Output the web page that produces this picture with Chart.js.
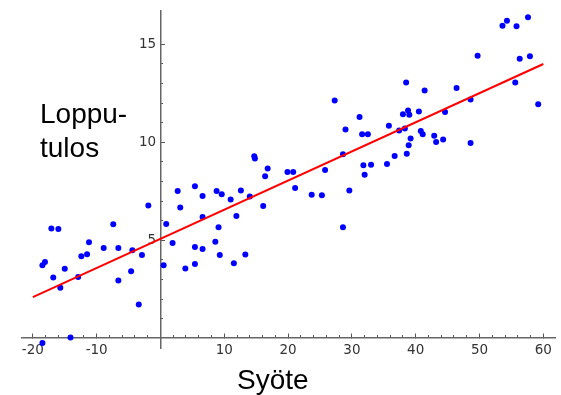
<!DOCTYPE html>
<html>
<head>
<meta charset="utf-8">
<script src="https://cdn.jsdelivr.net/npm/chart.js@4"></script>
<style>
    body { margin: 0; background: #fff; }
    #wrap { position: relative; width: 561px; height: 395px; }
    .lbl { position: absolute; font-family: "Liberation Sans", Arial, sans-serif; font-size: 28px; line-height: 34px; color: #000; white-space: nowrap; }
</style>
</head>
<body>
<div id="wrap">
    <canvas id="scatterChart"></canvas>
    <div class="lbl" style="left:40px; top:97px;">Loppu-<br>tulos</div>
    <div class="lbl" style="left:237px; top:363px;">Syöte</div>
</div>
<script>
// measured points (input, result)
const pointX = [-18.5, -18.1, -17.1, -16.0, -16.8, -15.7, -15.0, -14.1, -18.5, -12.9,
    -12.4, -11.5, -11.2, -8.9, -7.4, -6.6, -6.6, -4.6, -4.4, -3.4,
    -2.9, -1.9, 0.5, 0.9, 1.9, 2.7, 3.1, 3.9, 5.4, 5.4,
    5.4, 6.6, 6.6, 6.6, 8.6, 8.8, 9.1, 9.3, 9.6, 11.0,
    11.5, 11.9, 12.6, 13.3, 14.0, 14.7, 14.8, 16.1, 16.4, 16.8,
    19.9, 20.8, 21.1, 23.7, 25.3, 25.8, 27.3, 28.6, 28.6, 29.0,
    29.6, 31.2, 31.6, 32.5, 31.8, 32.0, 33.0, 35.5, 35.8, 36.7,
    37.4, 38.0, 38.3, 38.5, 38.6, 38.8, 39.0, 38.9, 39.2, 40.5,
    40.8, 41.1, 41.4, 42.9, 43.2, 44.3, 44.6, 46.4, 48.6, 48.6,
    49.7, 53.6, 54.3, 55.8, 57.6, 55.6, 56.3, 57.9, 59.2];
const pointY = [3.72, 3.89, 5.60, 5.58, 3.10, 2.57, 3.54, 0.04, -0.24, 3.13,
    4.18, 4.29, 4.90, 4.61, 5.82, 4.61, 2.94, 3.42, 4.49, 1.72,
    4.25, 6.77, 3.72, 5.83, 4.86, 7.52, 6.67, 3.56, 7.76, 4.66,
    3.79, 7.26, 6.19, 4.56, 4.93, 7.52, 5.66, 4.25, 7.35, 7.08,
    3.83, 6.24, 7.54, 4.27, 7.23, 9.29, 9.17, 6.75, 8.27, 8.66,
    8.48, 8.48, 7.67, 7.33, 7.30, 8.59, 12.14, 9.39, 5.66, 10.65,
    7.54, 11.29, 10.41, 10.41, 8.83, 8.34, 8.85, 8.89, 10.85, 9.30,
    10.61, 11.44, 10.71, 13.05, 9.42, 11.63, 11.41, 9.85, 10.20, 11.58,
    10.58, 10.41, 12.65, 10.34, 10.02, 10.14, 11.55, 12.77, 12.19, 9.96,
    14.42, 15.95, 16.21, 15.93, 16.39, 13.05, 14.27, 14.39, 11.95];

// fitted line end points
const fitX = [-20, 60];
const fitY = [2.1, 14.0];

// axis labels
const xTickLabels = [-20, -10, 10, 20, 30, 40, 50, 60];
const yTickLabels = [5, 10, 15];

const xRange = [-21.7, 61.9];
const yRange = [-0.5, 16.7];

const axisColor = '#666';
const tickMarkColor = '#555';
const tickFont = { family: 'DejaVu Sans', size: 13.5 };

const scatterData = pointX.map((x, i) => ({ x: x, y: pointY[i] }));
const fitData = fitX.map((x, i) => ({ x: x, y: fitY[i] }));

const ctx = document.getElementById('scatterChart').getContext('2d');

new Chart(ctx, {
    type: 'scatter',
    data: {
        datasets: [{
            label: 'fit',
            data: fitData,
            showLine: true,
            borderColor: '#ff0000',
            borderWidth: 2,
            pointRadius: 0
        }, {
            label: 'data',
            data: scatterData,
            backgroundColor: '#0000ff',
            borderWidth: 0,
            pointRadius: 3
        }]
    },
    options: {
        responsive: true,
        maintainAspectRatio: false,
        animation: false,
        layout: { padding: { left: 22, right: 4, top: 10, bottom: 47 } },
        plugins: {
            legend: { display: false },
            tooltip: { enabled: false }
        },
        scales: {
            // major ticks + labels, drawn on y = 0
            x: {
                type: 'linear',
                position: { y: 0 },
                min: xRange[0],
                max: xRange[1],
                afterBuildTicks: scale => { scale.ticks = xTickLabels.map(v => ({ value: v })); },
                grid: { drawOnChartArea: false, tickLength: -5, tickColor: tickMarkColor },
                border: { color: axisColor, width: 1.5 },
                ticks: { color: '#333', font: tickFont, padding: 9, maxRotation: 0, callback: v => String(v) }
            },
            // minor ticks only
            xMinor: {
                type: 'linear',
                axis: 'x',
                position: { y: 0 },
                min: xRange[0],
                max: xRange[1],
                afterBuildTicks: scale => { scale.ticks = scale.ticks.filter(t => t.value % 2 === 0); },
                grid: { drawOnChartArea: false, tickLength: -3, tickColor: tickMarkColor },
                border: { display: false },
                ticks: { display: false, stepSize: 2 }
            },
            y: {
                type: 'linear',
                position: { x: 0 },
                min: yRange[0],
                max: yRange[1],
                afterBuildTicks: scale => { scale.ticks = yTickLabels.map(v => ({ value: v })); },
                grid: { drawOnChartArea: false, tickLength: -5, tickColor: tickMarkColor },
                border: { color: axisColor, width: 1.5 },
                ticks: { color: '#333', font: tickFont, callback: v => v + ' ' }
            },
            yMinor: {
                type: 'linear',
                axis: 'y',
                position: { x: 0 },
                min: yRange[0],
                max: yRange[1],
                afterBuildTicks: scale => { scale.ticks = scale.ticks.filter(t => t.value % 1 === 0); },
                grid: { drawOnChartArea: false, tickLength: -3, tickColor: tickMarkColor },
                border: { display: false },
                ticks: { display: false, stepSize: 1 }
            }
        }
    }
});
</script>
</body>
</html>
